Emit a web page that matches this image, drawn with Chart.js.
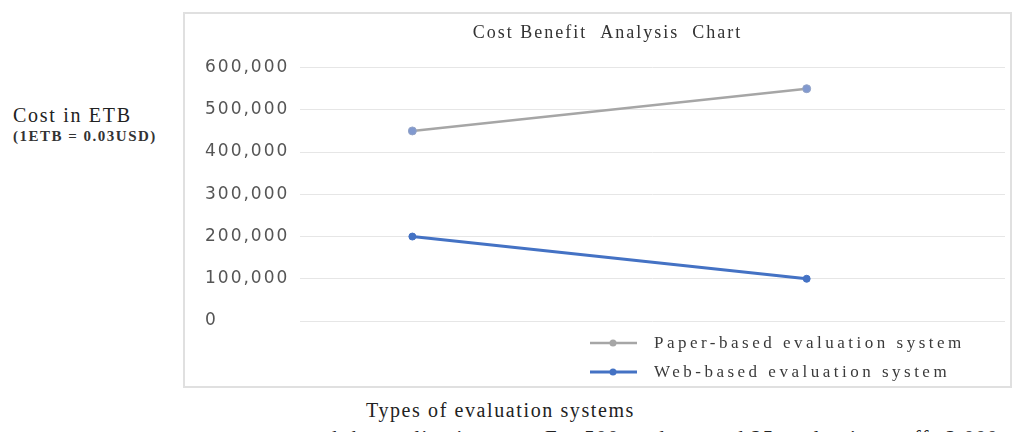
<!DOCTYPE html>
<html>
<head>
<meta charset="utf-8">
<script src="https://cdn.jsdelivr.net/npm/chart.js@4.4.1/dist/chart.umd.min.js"></script>
<style>
    html, body { margin: 0; padding: 0; background: #fff; }
    body { width: 1018px; height: 432px; position: relative; overflow: hidden; font-family: "Liberation Serif", serif; color: #222; }
    #box { position: absolute; left: 183px; top: 12px; width: 829px; height: 376px; border: 2px solid #e0e0e0; box-sizing: border-box; }
    #box canvas { display: block; }
    .ylab { position: absolute; left: 13px; top: 105px; font-size: 20px; line-height: 21px; letter-spacing: 1.7px; }
    .ylab small { display: block; font-size: 15px; font-weight: bold; letter-spacing: 1.5px; color: #333; }
    .xlab { position: absolute; left: 366px; top: 399px; font-size: 20px; letter-spacing: 1.6px; }
    .cut { position: absolute; left: 8px; top: 426px; font-size: 21px; white-space: nowrap; letter-spacing: 1.2px; }
</style>
</head>
<body>
<div class="ylab">Cost in ETB<small>(1ETB = 0.03USD)</small></div>
<div id="box"><canvas id="chart" width="825" height="372"></canvas></div>
<div class="xlab">Types of evaluation systems</div>
<div class="cut">.<span style="margin-left:290px">and the application cost. For 500 students and 25 evaluation staffs 2,000</span></div>
<script>
    // data
    const categories = ['1', '2']
    const paperBased = [450000, 550000]
    const webBased = [200000, 100000]
    const yTicks = [0, 100000, 200000, 300000, 400000, 500000, 600000]

    const toPoints = (vals) => vals.map((v, i) => ({ x: Number(categories[i]), y: v }))

    // wider text like the original picture
    const spacing = {
        id: 'spacing',
        beforeDraw(chart) { chart.ctx.letterSpacing = '2px' }
    }

    // legend drawn below the plot, stacked like the original
    const stackedLegend = {
        id: 'stackedLegend',
        afterDraw(chart) {
            const ctx = chart.ctx
            ctx.save()
            ctx.font = '17px "Liberation Serif", serif'
            ctx.letterSpacing = '3.5px'
            ctx.textBaseline = 'middle'
            chart.data.datasets.forEach((ds, i) => {
                const y = 329 + i * 29
                ctx.strokeStyle = ds.legendColor
                ctx.lineWidth = ds.borderWidth
                ctx.beginPath()
                ctx.moveTo(405, y)
                ctx.lineTo(452, y)
                ctx.stroke()
                ctx.fillStyle = ds.legendColor
                ctx.beginPath()
                ctx.arc(428, y, 3.5, 0, Math.PI * 2)
                ctx.fill()
                ctx.fillStyle = '#3a3a3a'
                ctx.fillText(ds.label, 469, y + 1)
            })
            ctx.restore()
        }
    }

    const config = {
        type: 'line',
        data: {
            datasets: [
                {
                    label: 'Paper-based evaluation system',
                    data: toPoints(paperBased),
                    borderColor: '#a6a6a6',
                    legendColor: '#a6a6a6',
                    borderWidth: 2.5,
                    pointBackgroundColor: '#8199cf',
                    pointBorderColor: '#93a3c6',
                    pointBorderWidth: 1,
                    pointRadius: 4,
                    tension: 0
                },
                {
                    label: 'Web-based evaluation system',
                    data: toPoints(webBased),
                    borderColor: '#4472c4',
                    legendColor: '#4472c4',
                    borderWidth: 3,
                    pointBackgroundColor: '#4472c4',
                    pointBorderColor: '#4472c4',
                    pointBorderWidth: 1,
                    pointRadius: 3.5,
                    tension: 0
                }
            ]
        },
        options: {
            responsive: false,
            animation: false,
            layout: { padding: { left: 20, right: 0, top: 0, bottom: 65 } },
            scales: {
                x: {
                    type: 'linear',
                    display: false,
                    min: 0.715,
                    max: 2.503
                },
                y: {
                    min: 0,
                    max: 600000,
                    afterFit: (scale) => { scale.width = 95 },
                    afterBuildTicks: (scale) => { scale.ticks = yTicks.map(v => ({ value: v })) },
                    border: { display: false },
                    grid: { color: '#e6e6e6', lineWidth: 1, drawTicks: false },
                    ticks: {
                        padding: 13,
                        crossAlign: 'far',
                        color: '#555',
                        font: { family: '"DejaVu Sans", sans-serif', size: 17 },
                        callback: (v) => v.toLocaleString('en-US')
                    }
                }
            },
            plugins: {
                legend: { display: false },
                tooltip: { enabled: false },
                title: {
                    display: true,
                    text: 'Cost Benefit  Analysis  Chart',
                    color: '#333',
                    font: { family: '"Liberation Serif", serif', size: 18, weight: 'normal' },
                    padding: { top: 8, bottom: 24 }
                }
            }
        },
        plugins: [spacing, stackedLegend]
    }

    new Chart(document.getElementById('chart').getContext('2d'), config)
</script>
</body>
</html>
